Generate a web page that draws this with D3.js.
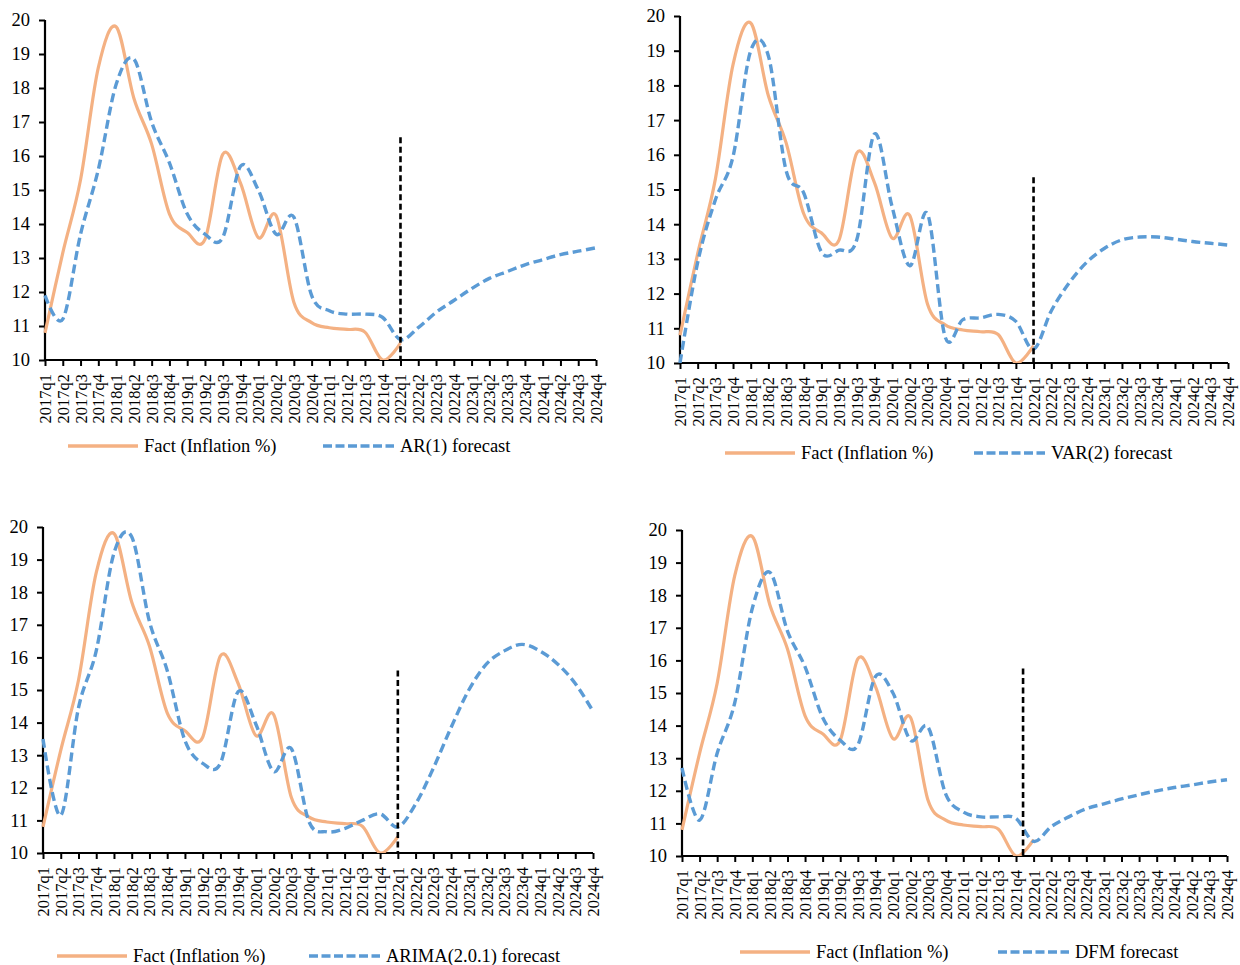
<!DOCTYPE html>
<html>
<head>
<meta charset="utf-8">
<script src="https://cdn.jsdelivr.net/npm/d3@7/dist/d3.min.js"></script>
<style>
  html, body { margin: 0; padding: 0; background: #fff; }
  svg { display: block; }
  text { font-family: "Liberation Serif", "Times New Roman", serif; fill: #000; }
</style>
</head>
<body>
<svg id="chart" width="1240" height="965"></svg>
<script>
// Quarterly labels 2017q1 … 2024q4
const quarters = [
  "2017q1","2017q2","2017q3","2017q4","2018q1","2018q2","2018q3","2018q4",
  "2019q1","2019q2","2019q3","2019q4","2020q1","2020q2","2020q3","2020q4",
  "2021q1","2021q2","2021q3","2021q4","2022q1","2022q2","2022q3","2022q4",
  "2023q1","2023q2","2023q3","2023q4","2024q1","2024q2","2024q3","2024q4"
];
const yTicks = [10, 11, 12, 13, 14, 15, 16, 17, 18, 19, 20];

// Observed inflation, %, 2017q1–2022q1
const factInflation = [10.8, 13.15, 15.3, 18.6, 19.8, 17.7, 16.35, 14.3, 13.75, 13.55, 16.05,
  15.2, 13.6, 14.25, 11.7, 11.1, 10.95, 10.9, 10.82, 10.0, 10.5];

// Model forecasts, %, 2017q1–2024q4
const arForecast = [11.9, 11.2, 13.7, 15.6, 18.1, 18.85, 17.0, 15.8, 14.3, 13.7, 13.6, 15.7,
  15.0, 13.7, 14.2, 11.9, 11.45, 11.35, 11.35, 11.25, 10.6, 10.95, 11.4, 11.75,
  12.1, 12.4, 12.6, 12.8, 12.95, 13.1, 13.2, 13.3];
const varForecast = [10.0, 12.9, 14.7, 15.95, 19.0, 18.85, 15.55, 14.9, 13.2, 13.25, 13.55, 16.6,
  14.5, 12.8, 14.3, 10.75, 11.25, 11.3, 11.4, 11.2, 10.4, 11.5, 12.3, 12.9,
  13.3, 13.55, 13.63, 13.63, 13.57, 13.5, 13.45, 13.4];
const arimaForecast = [13.5, 11.15, 14.45, 16.2, 19.2, 19.7, 17.1, 15.6, 13.45, 12.75, 12.75, 14.95,
  13.95, 12.5, 13.2, 10.95, 10.65, 10.75, 11.0, 11.2, 10.8, 11.5, 12.6, 13.85,
  15.0, 15.8, 16.2, 16.4, 16.2, 15.8, 15.2, 14.35];
const dfmForecast = [12.7, 11.1, 13.15, 14.7, 17.6, 18.7, 16.9, 15.8, 14.25, 13.55, 13.4, 15.5,
  15.0, 13.55, 13.95, 11.9, 11.35, 11.2, 11.2, 11.15, 10.45, 10.9, 11.2, 11.45,
  11.6, 11.75, 11.88, 12.0, 12.1, 12.18, 12.27, 12.34];

const factName = "Fact (Inflation %)";
const forecastNames = ["AR(1) forecast", "VAR(2) forecast", "ARIMA(2.0.1) forecast", "DFM forecast"];
const forecastSeries = [arForecast, varForecast, arimaForecast, dfmForecast];
// Forecast-origin marker: position on the quarter axis and height of the line
const markerIndex = [20, 20, 20, 19.4];
const markerTop = [16.55, 15.35, 15.6, 15.75];

// Panel frames (plot area and legend placement)
const panels = [
  { x0: 45,  x1: 596,  yTop: 20,  yBot: 360, legY: 446, legFact: 68,  legFc: 323 },
  { x0: 680, x1: 1228, yTop: 16,  yBot: 363, legY: 453, legFact: 725, legFc: 974 },
  { x0: 43,  x1: 593,  yTop: 527, yBot: 853, legY: 956, legFact: 57,  legFc: 309 },
  { x0: 682, x1: 1227, yTop: 530, yBot: 856, legY: 952, legFact: 740, legFc: 998 }
];

const orange = "#F4B183";
const blue = "#5B9BD5";
const svg = d3.select("#chart");

panels.forEach((p, k) => {
  const g = svg.append("g");
  const x = d3.scaleLinear().domain([0, quarters.length - 1]).range([p.x0, p.x1]);
  const y = d3.scaleLinear().domain([10, 20]).range([p.yBot, p.yTop]);

  // clip region so smoothed curves stay within the value range
  const clipId = "clip" + k;
  g.append("clipPath").attr("id", clipId).append("rect")
    .attr("x", p.x0 - 2).attr("y", p.yTop - 4)
    .attr("width", p.x1 - p.x0 + 4).attr("height", p.yBot - p.yTop + 4);

  // y axis
  const yAxis = d3.axisLeft(y).tickValues(yTicks).tickSize(6).tickPadding(9).tickFormat(d3.format("d"));
  const ya = g.append("g").attr("transform", `translate(${p.x0},0)`).call(yAxis);
  ya.attr("font-family", null);
  ya.select(".domain").attr("stroke", "#000").attr("stroke-width", 2.2).attr("d", `M0,${p.yTop}V${p.yBot}`);
  ya.selectAll(".tick line").attr("stroke", "#000").attr("stroke-width", 2);
  ya.selectAll(".tick text").attr("font-size", 18.5);

  // x axis with vertical quarter labels
  const xAxis = d3.axisBottom(x).tickValues(d3.range(quarters.length)).tickSize(6)
    .tickFormat(i => quarters[i]);
  const xa = g.append("g").attr("transform", `translate(0,${p.yBot})`).call(xAxis);
  xa.attr("font-family", null);
  xa.select(".domain").attr("stroke", "#000").attr("stroke-width", 2.2).attr("d", `M${p.x0},0H${p.x1}`);
  xa.selectAll(".tick line").attr("stroke", "#000").attr("stroke-width", 2);
  xa.selectAll(".tick text")
    .attr("font-size", 16.5)
    .attr("text-anchor", "end").attr("dy", null).attr("y", 0)
    .attr("dominant-baseline", "central")
    .attr("transform", "translate(0,14) rotate(-90)");

  const line = d3.line()
    .x((d, i) => x(i)).y(d => y(d))
    .curve(d3.curveCatmullRom.alpha(0));

  const plot = g.append("g").attr("clip-path", `url(#${clipId})`);

  // observed series
  plot.append("path").datum(factInflation)
    .attr("d", line).attr("fill", "none")
    .attr("stroke", orange).attr("stroke-width", 3.2).attr("stroke-linejoin", "round");

  // model forecast
  plot.append("path").datum(forecastSeries[k])
    .attr("d", line).attr("fill", "none")
    .attr("stroke", blue).attr("stroke-width", 3.4)
    .attr("stroke-dasharray", "9,4.5");

  // forecast-origin marker
  g.append("line")
    .attr("x1", x(markerIndex[k])).attr("x2", x(markerIndex[k]))
    .attr("y1", y(markerTop[k])).attr("y2", y(10))
    .attr("stroke", "#000").attr("stroke-width", 2.6)
    .attr("stroke-dasharray", "6,3.5");

  // legend
  const lg = g.append("g");
  lg.append("line").attr("x1", p.legFact).attr("x2", p.legFact + 70)
    .attr("y1", p.legY).attr("y2", p.legY)
    .attr("stroke", orange).attr("stroke-width", 3.4);
  lg.append("text").attr("x", p.legFact + 76).attr("y", p.legY)
    .attr("dominant-baseline", "central").attr("font-size", 18.5).text(factName);
  lg.append("line").attr("x1", p.legFc).attr("x2", p.legFc + 71)
    .attr("y1", p.legY).attr("y2", p.legY)
    .attr("stroke", blue).attr("stroke-width", 3.4).attr("stroke-dasharray", "9,3.5");
  lg.append("text").attr("x", p.legFc + 77).attr("y", p.legY)
    .attr("dominant-baseline", "central").attr("font-size", 18.5).text(forecastNames[k]);
});
</script>
</body>
</html>
